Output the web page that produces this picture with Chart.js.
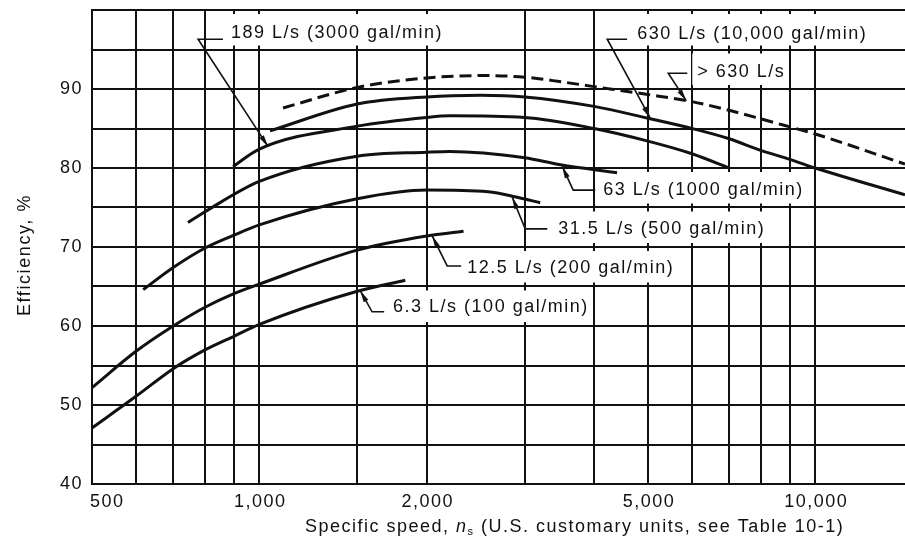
<!DOCTYPE html>
<html>
<head>
<meta charset="utf-8">
<title>Pump efficiency vs specific speed</title>
<script src="https://cdn.jsdelivr.net/npm/chart.js@4.4.1/dist/chart.umd.min.js"></script>
<style>
  html, body { margin: 0; padding: 0; background: #fff; }
  canvas { display: block; }
</style>
</head>
<body>
<canvas id="effChart" width="905" height="541"></canvas>
<script>
// Specific speed ns (U.S. units) and efficiency (%) for each flow rate
const ns6_3 = [500, 600, 700, 800, 900, 1000, 1500, 1830];
const eff6_3 = [47.1, 51.1, 54.6, 57.0, 58.7, 60.2, 64.4, 65.8];

const ns12_5 = [500, 600, 700, 800, 900, 1000, 1500, 2000, 2330];
const eff12_5 = [52.2, 56.8, 60.0, 62.4, 64.1, 65.3, 69.6, 71.4, 72.0];

const ns31_5 = [618, 700, 800, 900, 1000, 1500, 2000, 2580, 2910, 3200];
const eff31_5 = [64.6, 67.4, 69.9, 71.5, 72.8, 76.1, 77.2, 77.0, 76.3, 75.6];

const ns63 = [744, 800, 1000, 1500, 2000, 2200, 3000, 3480, 4400];
const eff63 = [73.1, 74.5, 78.3, 81.5, 82.0, 82.1, 81.3, 80.4, 79.4];

const ns189 = [897, 1000, 1500, 2000, 2200, 3000, 4000, 5000, 6000, 7000];
const eff189 = [80.2, 82.4, 85.3, 86.4, 86.6, 86.4, 85.0, 83.4, 81.8, 80.0];

const ns630 = [1045, 1500, 2000, 2500, 3000, 4000, 5000, 6000, 7000, 8000, 9000, 10000, 14500];
const eff630 = [84.7, 88.1, 89.0, 89.2, 89.0, 87.8, 86.3, 85.0, 83.7, 82.2, 81.1, 80.0, 76.6];

const nsOver630 = [1103, 1500, 2000, 2500, 3000, 3500, 4000, 5000, 6000, 7000, 8000, 9000, 10000, 14500];
const effOver630 = [87.6, 90.2, 91.4, 91.7, 91.5, 90.9, 90.3, 89.3, 88.4, 87.3, 86.2, 85.2, 84.3, 80.5];

// axes
const xGridValues = [500, 600, 700, 800, 900, 1000, 1500, 2000, 3000, 4000, 5000, 6000, 7000, 8000, 9000, 10000];
const xTickValues = [500, 1000, 2000, 5000, 10000];
const xTickLabels = ['500', '1,000', '2,000', '5,000', '10,000'];
const yTickLabels = [40, 50, 60, 70, 80, 90];

// callout labels, anchored in data units
const callouts = [
  { text: '189 L/s (3000 gal/min)', at: [889, 97.1], row: [95, 100], leader: [[860, 96.3], [776, 96.3], [1037, 82.7]] },
  { text: '630 L/s (10,000 gal/min)', at: [4782, 97.0], row: [95, 100], leader: [[4587, 96.3], [4224, 96.3], [5048, 86.3]] },
  { text: '> 630 L/s', at: [6134, 92.1], row: [90, 95], leader: [[5885, 92.0], [5439, 92.0], [5861, 88.5]] },
  { text: '63 L/s (1000 gal/min)', at: [4155, 77.2], row: [75, 80], leader: [[4020, 77.2], [3669, 77.2], [3506, 80.2]] },
  { text: '31.5 L/s (500 gal/min)', at: [3448, 72.3], row: [70, 75], leader: [[3295, 72.3], [3008, 72.3], [2850, 76.3]] },
  { text: '12.5 L/s (200 gal/min)', at: [2365, 67.35], row: [65, 70], leader: [[2307, 67.6], [2177, 67.6], [2046, 71.4]] },
  { text: '6.3 L/s (100 gal/min)', at: [1740, 62.35], row: [60, 65], leader: [[1677, 61.8], [1595, 61.8], [1518, 64.5]] }
];

const INK = '#111';
const FAMILY = '"Liberation Sans", Arial, Helvetica, sans-serif';
const SPACING = '1.5px';

function toPoints(xs, ys) {
  return xs.map((v, i) => ({ x: v, y: ys[i] }));
}

function curve(xs, ys, dashed) {
  return {
    data: toPoints(xs, ys),
    borderColor: INK,
    borderWidth: 3,
    borderDash: dashed ? [12, 6] : [],
    pointRadius: 0,
    fill: false,
    cubicInterpolationMode: 'monotone'
  };
}

// no extra room for the (blank) end labels
function noEdgePadding(scale) {
  scale.paddingTop = 0;
  scale.paddingBottom = 0;
  scale.paddingLeft = 0;
  scale.paddingRight = 0;
}

const calloutPlugin = {
  id: 'callouts',
  beforeDraw(chart) {
    chart.ctx.letterSpacing = SPACING;
  },
  beforeDatasetsDraw(chart) {
    const { ctx, scales: { x, y } } = chart;
    ctx.save();
    ctx.font = '18px ' + FAMILY;
    ctx.letterSpacing = SPACING;
    ctx.fillStyle = '#fff';
    callouts.forEach(c => {
      const left = x.getPixelForValue(c.at[0]);
      const w = ctx.measureText(c.text).width;
      const top = y.getPixelForValue(c.row[1]) + 4;
      const bottom = y.getPixelForValue(c.row[0]) - 4;
      ctx.fillRect(left - 5, top, w + 8, bottom - top);
    });
    ctx.restore();
  },
  afterDatasetsDraw(chart) {
    const { ctx, scales: { x, y } } = chart;
    ctx.save();
    ctx.font = '18px ' + FAMILY;
    ctx.letterSpacing = SPACING;
    ctx.fillStyle = INK;
    ctx.strokeStyle = INK;
    ctx.textBaseline = 'middle';
    ctx.textAlign = 'left';
    callouts.forEach(c => {
      ctx.fillText(c.text, x.getPixelForValue(c.at[0]), y.getPixelForValue(c.at[1]));

      const pts = c.leader.map(p => [x.getPixelForValue(p[0]), y.getPixelForValue(p[1])]);
      ctx.lineWidth = 1.6;
      ctx.beginPath();
      ctx.moveTo(pts[0][0], pts[0][1]);
      pts.slice(1).forEach(p => ctx.lineTo(p[0], p[1]));
      ctx.stroke();

      // arrowhead at the end of the leader
      const [ax, ay] = pts[pts.length - 1];
      const [bx, by] = pts[pts.length - 2];
      const ang = Math.atan2(ay - by, ax - bx);
      const len = 12, half = 2.6;
      ctx.beginPath();
      ctx.moveTo(ax, ay);
      ctx.lineTo(ax - len * Math.cos(ang) + half * Math.sin(ang), ay - len * Math.sin(ang) - half * Math.cos(ang));
      ctx.lineTo(ax - len * Math.cos(ang) - half * Math.sin(ang), ay - len * Math.sin(ang) + half * Math.cos(ang));
      ctx.closePath();
      ctx.fill();
    });
    ctx.restore();
  },
  afterDraw(chart) {
    const { ctx, chartArea, scales: { x } } = chart;
    ctx.save();
    ctx.fillStyle = INK;
    ctx.letterSpacing = SPACING;
    ctx.font = '18px ' + FAMILY;
    ctx.textBaseline = 'middle';

    // x tick labels
    xTickValues.forEach((v, i) => {
      const px = x.getPixelForValue(v);
      ctx.textAlign = i === 0 ? 'left' : 'center';
      ctx.fillText(xTickLabels[i], i === 0 ? px - 2 : px + 1, chartArea.bottom + 18);
    });

    // x title with italic n and subscript s
    ctx.textAlign = 'left';
    ctx.textBaseline = 'alphabetic';
    const base = chartArea.bottom + 48;
    let cx = chartArea.left + 213;
    const parts = [
      ['Specific speed, ', '18px ' + FAMILY, 0],
      ['n', 'italic 18px ' + FAMILY, 0],
      ['s', '11px ' + FAMILY, 3],
      [' (U.S. customary units, see Table 10-1)', '18px ' + FAMILY, 0]
    ];
    parts.forEach(([t, f, dy]) => {
      ctx.font = f;
      ctx.fillText(t, cx, base + dy);
      cx += ctx.measureText(t).width;
    });

    // y title
    ctx.font = '18px ' + FAMILY;
    ctx.letterSpacing = '1.6px';
    ctx.translate(chartArea.left - 67, (chartArea.top + chartArea.bottom) / 2 + 8);
    ctx.rotate(-Math.PI / 2);
    ctx.textAlign = 'center';
    ctx.textBaseline = 'middle';
    ctx.fillText('Efficiency, %', 0, 0);
    ctx.restore();
  }
};

const ctx = document.getElementById('effChart').getContext('2d');
new Chart(ctx, {
  type: 'line',
  data: {
    datasets: [
      curve(ns6_3, eff6_3),
      curve(ns12_5, eff12_5),
      curve(ns31_5, eff31_5),
      curve(ns63, eff63),
      curve(ns189, eff189),
      curve(ns630, eff630),
      curve(nsOver630, effOver630, true)
    ]
  },
  options: {
    responsive: false,
    animation: false,
    events: [],
    layout: { padding: { top: 10, left: 0, right: 0, bottom: 0 } },
    plugins: {
      legend: { display: false },
      tooltip: { enabled: false }
    },
    scales: {
      x: {
        type: 'logarithmic',
        min: 500,
        max: 14500,
        afterBuildTicks: scale => { scale.ticks = xGridValues.map(v => ({ value: v })); },
        afterFit: scale => { scale.height = 57; noEdgePadding(scale); },
        ticks: { display: false },
        grid: { color: INK, lineWidth: 2, drawTicks: false },
        border: { color: INK, width: 2 }
      },
      y: {
        min: 40,
        max: 100,
        afterFit: scale => { scale.width = 92; noEdgePadding(scale); },
        ticks: {
          stepSize: 5,
          padding: 9,
          color: INK,
          font: { family: FAMILY, size: 18 },
          callback: v => (yTickLabels.includes(v) ? String(v) : '')
        },
        grid: { color: INK, lineWidth: 2, drawTicks: false },
        border: { color: INK, width: 2 }
      }
    }
  },
  plugins: [calloutPlugin]
});
</script>
</body>
</html>
